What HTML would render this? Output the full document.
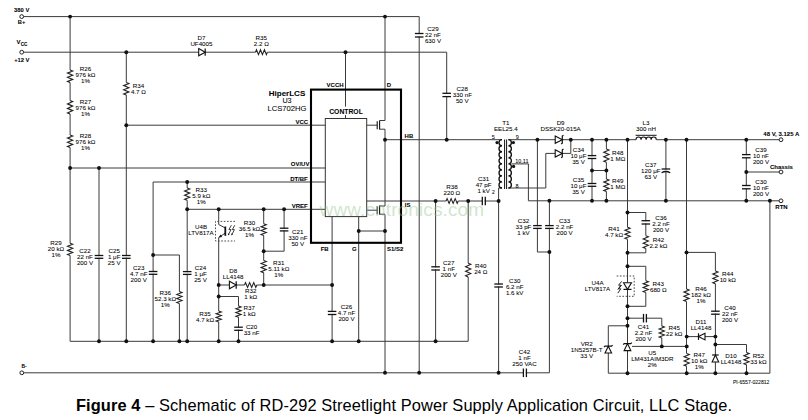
<!DOCTYPE html>
<html><head><meta charset="utf-8"><title>Figure 4 - RD-292 LLC Stage</title>
<style>html,body{margin:0;padding:0;background:#fff;width:808px;height:420px;overflow:hidden}
svg{display:block;font-family:"Liberation Sans",sans-serif}</style></head>
<body>
<svg width="808" height="420" viewBox="0 0 808 420" font-family="Liberation Sans, sans-serif"><rect width="808" height="420" fill="#fff"/><path d="M23.6 16.6 L419.2 16.6 L419.2 372.8" stroke="#3a3a3a" stroke-width="1" fill="none"/>
<path d="M385 16.6 L385 120.5 L379.6 120.5" stroke="#3a3a3a" stroke-width="1" fill="none"/>
<path d="M70.1 16.6 L70.1 341.3 L468.2 341.3 L468.2 201" stroke="#3a3a3a" stroke-width="1" fill="none"/>
<path d="M23.6 52.2 L446.7 52.2 L446.7 139.7" stroke="#3a3a3a" stroke-width="1" fill="none"/>
<path d="M126.3 52.2 L126.3 341.3" stroke="#3a3a3a" stroke-width="1" fill="none"/>
<path d="M126.3 125.2 L325.3 125.2" stroke="#3a3a3a" stroke-width="1" fill="none"/>
<path d="M345.5 52.2 L345.5 118.5" stroke="#3a3a3a" stroke-width="1" fill="none"/>
<path d="M70.1 168 L325.3 168" stroke="#3a3a3a" stroke-width="1" fill="none"/>
<path d="M99 168 L99 341.3" stroke="#3a3a3a" stroke-width="1" fill="none"/>
<path d="M325.3 182 L153.1 182 L153.1 341.3" stroke="#3a3a3a" stroke-width="1" fill="none"/>
<path d="M153.1 255 L179.4 255 L179.4 341.3" stroke="#3a3a3a" stroke-width="1" fill="none"/>
<path d="M187.2 182 L187.2 341.3" stroke="#3a3a3a" stroke-width="1" fill="none"/>
<path d="M187.2 209.3 L325.3 209.3" stroke="#3a3a3a" stroke-width="1" fill="none"/>
<path d="M218.7 209.3 L218.7 224.5 L225.3 228" stroke="#3a3a3a" stroke-width="1" fill="none"/>
<path d="M225.3 233 L218.7 237.5 L218.7 341.3" stroke="#3a3a3a" stroke-width="1" fill="none"/>
<path d="M225.3 226.5 L225.3 235.8" stroke="#111" stroke-width="1.8" fill="none"/>
<path d="M218.9 237.4 L220.4 234.6 L222.2 236.9 Z" fill="#111"/>
<path d="M235 221.4 L215.5 221.4 L215.5 241 L235 241" fill="none" stroke="#333" stroke-width="0.9" stroke-dasharray="1.6 1.6"/>
<path d="M231.4 225.2 L228.9 229.6 L231 229.6 L228.5 234.6" stroke="#111" stroke-width="0.8" fill="none"/>
<path d="M227.9 235.4 L228 233.2 L229.6 234.2 Z" fill="#111"/>
<path d="M234.8 225.2 L232.3 229.6 L234.4 229.6 L231.9 234.6" stroke="#111" stroke-width="0.8" fill="none"/>
<path d="M231.3 235.4 L231.4 233.2 L233 234.2 Z" fill="#111"/>
<path d="M218.7 285 L332.1 285" stroke="#3a3a3a" stroke-width="1" fill="none"/>
<path d="M218.7 296.5 L238.5 296.5 L238.5 341.3" stroke="#3a3a3a" stroke-width="1" fill="none"/>
<path d="M263.7 209.3 L263.7 285" stroke="#3a3a3a" stroke-width="1" fill="none"/>
<path d="M263.7 251.2 L284.1 251.2 L284.1 209.3" stroke="#3a3a3a" stroke-width="1" fill="none"/>
<path d="M332.1 216.6 L332.1 341.3" stroke="#3a3a3a" stroke-width="1" fill="none"/>
<path d="M358.7 216.6 L358.7 341.3" stroke="#3a3a3a" stroke-width="1" fill="none"/>
<path d="M385 214.5 L385 372.8" stroke="#3a3a3a" stroke-width="1" fill="none"/>
<path d="M358.7 231 L385 231" stroke="#3a3a3a" stroke-width="1" fill="none"/>
<path d="M366.7 210.2 L377.2 210.2" stroke="#3a3a3a" stroke-width="1" fill="none"/>
<path d="M377.2 206.2 L377.2 214.2" stroke="#111" stroke-width="1.1" fill="none"/>
<path d="M379.6 205.6 L379.6 214.6" stroke="#111" stroke-width="1.1" fill="none"/>
<path d="M379.6 206 L385 206 L385 139.7" stroke="#3a3a3a" stroke-width="1" fill="none"/>
<path d="M379.6 214.2 L385 214.2" stroke="#3a3a3a" stroke-width="1" fill="none"/>
<path d="M366.7 125.2 L377.2 125.2" stroke="#3a3a3a" stroke-width="1" fill="none"/>
<path d="M377.2 121.2 L377.2 129.2" stroke="#111" stroke-width="1.1" fill="none"/>
<path d="M379.6 120.6 L379.6 129.6" stroke="#111" stroke-width="1.1" fill="none"/>
<path d="M379.6 129.2 L385 129.2 L385 139.7" stroke="#3a3a3a" stroke-width="1" fill="none"/>
<path d="M385 139.7 L502 139.7" stroke="#3a3a3a" stroke-width="1" fill="none"/>
<path d="M366.7 201 L499 201" stroke="#3a3a3a" stroke-width="1" fill="none"/>
<path d="M435.6 201 L435.6 341.3" stroke="#3a3a3a" stroke-width="1" fill="none"/>
<path d="M502 188 L498.6 188 L498.6 372.8" stroke="#3a3a3a" stroke-width="1" fill="none"/>
<path d="M23.7 372.8 L549.4 372.8 L549.4 201" stroke="#3a3a3a" stroke-width="1" fill="none"/>
<path d="M508.4 139.7 L781 139.7" stroke="#3a3a3a" stroke-width="1" fill="none"/>
<path d="M511.5 163.9 L528.4 163.9 L528.4 200.8 L781 200.8" stroke="#3a3a3a" stroke-width="1" fill="none"/>
<path d="M508.4 188 L545.8 188 L545.8 153.4 L570.8 153.4 L570.8 139.7" stroke="#3a3a3a" stroke-width="1" fill="none"/>
<path d="M537.4 139.7 L537.4 252 L549.4 252" stroke="#3a3a3a" stroke-width="1" fill="none"/>
<path d="M592 139.7 L592 200.8" stroke="#3a3a3a" stroke-width="1" fill="none"/>
<path d="M592 170.5 L606.4 170.5" stroke="#3a3a3a" stroke-width="1" fill="none"/>
<path d="M606.4 139.7 L606.4 200.8" stroke="#3a3a3a" stroke-width="1" fill="none"/>
<path d="M627.5 139.7 L627.5 373.2" stroke="#3a3a3a" stroke-width="1" fill="none"/>
<path d="M627.5 212.5 L645.8 212.5 L645.8 252.8 L627.5 252.8" stroke="#3a3a3a" stroke-width="1" fill="none"/>
<path d="M627.5 266.3 L645.8 266.3 L645.8 306.3 L627.5 306.3" stroke="#3a3a3a" stroke-width="1" fill="none"/>
<path d="M627.5 318.2 L661.8 318.2 L661.8 346.4" stroke="#3a3a3a" stroke-width="1" fill="none"/>
<path d="M632 346.4 L686.7 346.4" stroke="#3a3a3a" stroke-width="1" fill="none"/>
<path d="M627.5 325.8 L608.3 325.8 L608.3 373.2 L769.9 373.2 L769.9 200.8" stroke="#3a3a3a" stroke-width="1" fill="none"/>
<path d="M665.9 139.7 L665.9 200.8" stroke="#3a3a3a" stroke-width="1" fill="none"/>
<path d="M686.5 139.7 L686.5 373.2" stroke="#3a3a3a" stroke-width="1" fill="none"/>
<path d="M686.5 252.4 L715.4 252.4 L715.4 373.2" stroke="#3a3a3a" stroke-width="1" fill="none"/>
<path d="M686.5 336.6 L715.4 336.6" stroke="#3a3a3a" stroke-width="1" fill="none"/>
<path d="M715.4 344.5 L746.5 344.5 L746.5 373.2" stroke="#3a3a3a" stroke-width="1" fill="none"/>
<path d="M746.3 139.7 L746.3 200.8" stroke="#3a3a3a" stroke-width="1" fill="none"/>
<path d="M746.3 172 L781 172" stroke="#3a3a3a" stroke-width="1" fill="none"/>
<rect x="311" y="89.6" width="90" height="153.2" fill="none" stroke="#000" stroke-width="2.1"/>
<rect x="325.3" y="118.5" width="41.4" height="98.1" fill="none" stroke="#333" stroke-width="1"/>
<path d="M502 139.7 C498 139.7 498 145.74 502 145.74 C498 145.74 498 151.77 502 151.77 C498 151.77 498 157.81 502 157.81 C498 157.81 498 163.85 502 163.85 C498 163.85 498 169.89 502 169.89 C498 169.89 498 175.92 502 175.92 C498 175.93 498 181.96 502 181.96 C498 181.96 498 188 502 188" stroke="#111" stroke-width="1.3" fill="none"/>
<path d="M508.4 139.7 C512.4 139.7 512.4 145.74 508.4 145.74 C512.4 145.74 512.4 151.77 508.4 151.77 C512.4 151.77 512.4 157.81 508.4 157.81 C512.4 157.81 512.4 163.85 508.4 163.85 C512.4 163.85 512.4 169.89 508.4 169.89 C512.4 169.89 512.4 175.92 508.4 175.92 C512.4 175.93 512.4 181.96 508.4 181.96 C512.4 181.96 512.4 188 508.4 188" stroke="#111" stroke-width="1.3" fill="none"/>
<path d="M504.6 139.5 L504.6 189" stroke="#111" stroke-width="1" fill="none"/>
<path d="M506.6 139.5 L506.6 189" stroke="#111" stroke-width="1" fill="none"/>
<circle cx="497" cy="142.6" r="1.6" fill="#111"/>
<circle cx="513.4" cy="142.6" r="1.6" fill="#111"/>
<circle cx="513.6" cy="166.4" r="1.6" fill="#111"/>
<rect x="636" y="137.7" width="20.3" height="4" fill="#fff"/>
<path d="M636 139.7 C636 136.1 641.07 136.1 641.07 139.7 C641.07 136.1 646.14 136.1 646.14 139.7 C646.14 136.1 651.21 136.1 651.21 139.7 C651.21 136.1 656.28 136.1 656.28 139.7" stroke="#111" stroke-width="1.1" fill="none"/>
<path d="M635.6 135.3 L656.6 135.3" stroke="#111" stroke-width="1" fill="none"/>
<rect x="68.1" y="70" width="4" height="12.5" fill="#fff"/>
<path d="M70.1 70 L72.7 71.04 L67.5 73.12 L72.7 75.21 L67.5 77.29 L72.7 79.38 L67.5 81.46 L70.1 82.5" stroke="#222" stroke-width="1.1" fill="none"/>
<rect x="68.1" y="100.5" width="4" height="13.5" fill="#fff"/>
<path d="M70.1 100.5 L72.7 101.62 L67.5 103.88 L72.7 106.12 L67.5 108.38 L72.7 110.62 L67.5 112.88 L70.1 114" stroke="#222" stroke-width="1.1" fill="none"/>
<rect x="68.1" y="135" width="4" height="12.5" fill="#fff"/>
<path d="M70.1 135 L72.7 136.04 L67.5 138.12 L72.7 140.21 L67.5 142.29 L72.7 144.38 L67.5 146.46 L70.1 147.5" stroke="#222" stroke-width="1.1" fill="none"/>
<rect x="68.1" y="243.2" width="4" height="12.3" fill="#fff"/>
<path d="M70.1 243.2 L72.7 244.22 L67.5 246.27 L72.7 248.32 L67.5 250.38 L72.7 252.43 L67.5 254.47 L70.1 255.5" stroke="#222" stroke-width="1.1" fill="none"/>
<rect x="124.3" y="82.5" width="4" height="12.5" fill="#fff"/>
<path d="M126.3 82.5 L128.9 83.54 L123.7 85.62 L128.9 87.71 L123.7 89.79 L128.9 91.88 L123.7 93.96 L126.3 95" stroke="#222" stroke-width="1.1" fill="none"/>
<rect x="185.2" y="188" width="4" height="12.3" fill="#fff"/>
<path d="M187.2 188 L189.8 189.03 L184.6 191.07 L189.8 193.12 L184.6 195.18 L189.8 197.23 L184.6 199.28 L187.2 200.3" stroke="#222" stroke-width="1.1" fill="none"/>
<rect x="261.7" y="223.7" width="4" height="11.8" fill="#fff"/>
<path d="M263.7 223.7 L266.3 224.68 L261.1 226.65 L266.3 228.62 L261.1 230.58 L266.3 232.55 L261.1 234.52 L263.7 235.5" stroke="#222" stroke-width="1.1" fill="none"/>
<rect x="261.7" y="260.4" width="4" height="12.3" fill="#fff"/>
<path d="M263.7 260.4 L266.3 261.42 L261.1 263.47 L266.3 265.52 L261.1 267.57 L266.3 269.62 L261.1 271.68 L263.7 272.7" stroke="#222" stroke-width="1.1" fill="none"/>
<rect x="177.4" y="291.6" width="4" height="11.9" fill="#fff"/>
<path d="M179.4 291.6 L182 292.59 L176.8 294.58 L182 296.56 L176.8 298.54 L182 300.52 L176.8 302.51 L179.4 303.5" stroke="#222" stroke-width="1.1" fill="none"/>
<rect x="216.7" y="311" width="4" height="11" fill="#fff"/>
<path d="M218.7 311 L221.3 311.92 L216.1 313.75 L221.3 315.58 L216.1 317.42 L221.3 319.25 L216.1 321.08 L218.7 322" stroke="#222" stroke-width="1.1" fill="none"/>
<rect x="236.5" y="306" width="4" height="11.2" fill="#fff"/>
<path d="M238.5 306 L241.1 306.93 L235.9 308.8 L241.1 310.67 L235.9 312.53 L241.1 314.4 L235.9 316.27 L238.5 317.2" stroke="#222" stroke-width="1.1" fill="none"/>
<rect x="466.2" y="263.2" width="4" height="13.8" fill="#fff"/>
<path d="M468.2 263.2 L470.8 264.35 L465.6 266.65 L470.8 268.95 L465.6 271.25 L470.8 273.55 L465.6 275.85 L468.2 277" stroke="#222" stroke-width="1.1" fill="none"/>
<rect x="625.5" y="227.2" width="4" height="12.1" fill="#fff"/>
<path d="M627.5 227.2 L630.1 228.21 L624.9 230.22 L630.1 232.24 L624.9 234.26 L630.1 236.28 L624.9 238.29 L627.5 239.3" stroke="#222" stroke-width="1.1" fill="none"/>
<rect x="643.8" y="235.7" width="4" height="12.8" fill="#fff"/>
<path d="M645.8 235.7 L648.4 236.77 L643.2 238.9 L648.4 241.03 L643.2 243.17 L648.4 245.3 L643.2 247.43 L645.8 248.5" stroke="#222" stroke-width="1.1" fill="none"/>
<rect x="643.8" y="280.7" width="4" height="11.8" fill="#fff"/>
<path d="M645.8 280.7 L648.4 281.68 L643.2 283.65 L648.4 285.62 L643.2 287.58 L648.4 289.55 L643.2 291.52 L645.8 292.5" stroke="#222" stroke-width="1.1" fill="none"/>
<rect x="713.4" y="270.9" width="4" height="12.9" fill="#fff"/>
<path d="M715.4 270.9 L718 271.97 L712.8 274.12 L718 276.27 L712.8 278.43 L718 280.57 L712.8 282.73 L715.4 283.8" stroke="#222" stroke-width="1.1" fill="none"/>
<rect x="684.5" y="289" width="4" height="12.5" fill="#fff"/>
<path d="M686.5 289 L689.1 290.04 L683.9 292.12 L689.1 294.21 L683.9 296.29 L689.1 298.38 L683.9 300.46 L686.5 301.5" stroke="#222" stroke-width="1.1" fill="none"/>
<rect x="659.8" y="326.1" width="4" height="11.9" fill="#fff"/>
<path d="M661.8 326.1 L664.4 327.09 L659.2 329.08 L664.4 331.06 L659.2 333.04 L664.4 335.02 L659.2 337.01 L661.8 338" stroke="#222" stroke-width="1.1" fill="none"/>
<rect x="684.7" y="353.5" width="4" height="12.7" fill="#fff"/>
<path d="M686.7 353.5 L689.3 354.56 L684.1 356.68 L689.3 358.79 L684.1 360.91 L689.3 363.02 L684.1 365.14 L686.7 366.2" stroke="#222" stroke-width="1.1" fill="none"/>
<rect x="744.5" y="352.6" width="4" height="12.2" fill="#fff"/>
<path d="M746.5 352.6 L749.1 353.62 L743.9 355.65 L749.1 357.68 L743.9 359.72 L749.1 361.75 L743.9 363.78 L746.5 364.8" stroke="#222" stroke-width="1.1" fill="none"/>
<rect x="604.4" y="149" width="4" height="13.3" fill="#fff"/>
<path d="M606.4 149 L609 150.11 L603.8 152.32 L609 154.54 L603.8 156.76 L609 158.98 L603.8 161.19 L606.4 162.3" stroke="#222" stroke-width="1.1" fill="none"/>
<rect x="604.4" y="179" width="4" height="12.5" fill="#fff"/>
<path d="M606.4 179 L609 180.04 L603.8 182.12 L609 184.21 L603.8 186.29 L609 188.38 L603.8 190.46 L606.4 191.5" stroke="#222" stroke-width="1.1" fill="none"/>
<rect x="255.5" y="50.2" width="11.9" height="4" fill="#fff"/>
<path d="M255.5 52.2 L256.49 49.8 L258.48 54.6 L260.46 49.8 L262.44 54.6 L264.42 49.8 L266.41 54.6 L267.4 52.2" stroke="#222" stroke-width="1.1" fill="none"/>
<rect x="244.5" y="283" width="12.3" height="4" fill="#fff"/>
<path d="M244.5 285 L245.53 282.6 L247.57 287.4 L249.62 282.6 L251.68 287.4 L253.73 282.6 L255.78 287.4 L256.8 285" stroke="#222" stroke-width="1.1" fill="none"/>
<rect x="446.1" y="199" width="12.1" height="4" fill="#fff"/>
<path d="M446.1 201 L447.11 198.6 L449.12 203.4 L451.14 198.6 L453.16 203.4 L455.18 198.6 L457.19 203.4 L458.2 201" stroke="#222" stroke-width="1.1" fill="none"/>
<rect x="417.2" y="34.1" width="4" height="2.3" fill="#fff"/>
<path d="M414.9 33.5 L423.5 33.5" stroke="#111" stroke-width="1.3" fill="none"/>
<path d="M414.9 37 L423.5 37" stroke="#111" stroke-width="1.3" fill="none"/>
<rect x="444.7" y="93.9" width="4" height="2.1" fill="#fff"/>
<path d="M442.4 93.3 L451 93.3" stroke="#111" stroke-width="1.3" fill="none"/>
<path d="M442.4 96.6 L451 96.6" stroke="#111" stroke-width="1.3" fill="none"/>
<rect x="97" y="256.1" width="4" height="1.6" fill="#fff"/>
<path d="M94.7 255.5 L103.3 255.5" stroke="#111" stroke-width="1.3" fill="none"/>
<path d="M94.7 258.3 L103.3 258.3" stroke="#111" stroke-width="1.3" fill="none"/>
<rect x="124.3" y="256.1" width="4" height="1.6" fill="#fff"/>
<path d="M122 255.5 L130.6 255.5" stroke="#111" stroke-width="1.3" fill="none"/>
<path d="M122 258.3 L130.6 258.3" stroke="#111" stroke-width="1.3" fill="none"/>
<rect x="151.1" y="272.1" width="4" height="1.6" fill="#fff"/>
<path d="M148.8 271.5 L157.4 271.5" stroke="#111" stroke-width="1.3" fill="none"/>
<path d="M148.8 274.3 L157.4 274.3" stroke="#111" stroke-width="1.3" fill="none"/>
<rect x="185.2" y="272.2" width="4" height="1.6" fill="#fff"/>
<path d="M182.9 271.6 L191.5 271.6" stroke="#111" stroke-width="1.3" fill="none"/>
<path d="M182.9 274.4 L191.5 274.4" stroke="#111" stroke-width="1.3" fill="none"/>
<rect x="282.1" y="228.8" width="4" height="1.5" fill="#fff"/>
<path d="M279.8 228.2 L288.4 228.2" stroke="#111" stroke-width="1.3" fill="none"/>
<path d="M279.8 230.9 L288.4 230.9" stroke="#111" stroke-width="1.3" fill="none"/>
<rect x="236.5" y="327.8" width="4" height="1.9" fill="#fff"/>
<path d="M234.2 327.2 L242.8 327.2" stroke="#111" stroke-width="1.3" fill="none"/>
<path d="M234.2 330.3 L242.8 330.3" stroke="#111" stroke-width="1.3" fill="none"/>
<rect x="330.1" y="312" width="4" height="1.9" fill="#fff"/>
<path d="M327.8 311.4 L336.4 311.4" stroke="#111" stroke-width="1.3" fill="none"/>
<path d="M327.8 314.5 L336.4 314.5" stroke="#111" stroke-width="1.3" fill="none"/>
<rect x="433.6" y="267.4" width="4" height="2" fill="#fff"/>
<path d="M431.3 266.8 L439.9 266.8" stroke="#111" stroke-width="1.3" fill="none"/>
<path d="M431.3 270 L439.9 270" stroke="#111" stroke-width="1.3" fill="none"/>
<rect x="496.6" y="284.6" width="4" height="1.8" fill="#fff"/>
<path d="M494.3 284 L502.9 284" stroke="#111" stroke-width="1.3" fill="none"/>
<path d="M494.3 287 L502.9 287" stroke="#111" stroke-width="1.3" fill="none"/>
<rect x="535.4" y="226.2" width="4" height="1.6" fill="#fff"/>
<path d="M533.1 225.6 L541.7 225.6" stroke="#111" stroke-width="1.3" fill="none"/>
<path d="M533.1 228.4 L541.7 228.4" stroke="#111" stroke-width="1.3" fill="none"/>
<rect x="547.4" y="226.2" width="4" height="1.6" fill="#fff"/>
<path d="M545.1 225.6 L553.7 225.6" stroke="#111" stroke-width="1.3" fill="none"/>
<path d="M545.1 228.4 L553.7 228.4" stroke="#111" stroke-width="1.3" fill="none"/>
<rect x="590" y="156.2" width="4" height="1.7" fill="#fff"/>
<path d="M587.7 155.6 L596.3 155.6" stroke="#111" stroke-width="1.3" fill="none"/>
<path d="M587.7 158.5 L596.3 158.5" stroke="#111" stroke-width="1.3" fill="none"/>
<rect x="590" y="184.1" width="4" height="1.6" fill="#fff"/>
<path d="M587.7 183.5 L596.3 183.5" stroke="#111" stroke-width="1.3" fill="none"/>
<path d="M587.7 186.3 L596.3 186.3" stroke="#111" stroke-width="1.3" fill="none"/>
<rect x="643.8" y="221.3" width="4" height="2.1" fill="#fff"/>
<path d="M641.5 220.7 L650.1 220.7" stroke="#111" stroke-width="1.3" fill="none"/>
<path d="M641.5 224 L650.1 224" stroke="#111" stroke-width="1.3" fill="none"/>
<rect x="744.3" y="155.2" width="4" height="2" fill="#fff"/>
<path d="M742 154.6 L750.6 154.6" stroke="#111" stroke-width="1.3" fill="none"/>
<path d="M742 157.8 L750.6 157.8" stroke="#111" stroke-width="1.3" fill="none"/>
<rect x="744.3" y="186.1" width="4" height="2.1" fill="#fff"/>
<path d="M742 185.5 L750.6 185.5" stroke="#111" stroke-width="1.3" fill="none"/>
<path d="M742 188.8 L750.6 188.8" stroke="#111" stroke-width="1.3" fill="none"/>
<rect x="713.4" y="311.8" width="4" height="1.8" fill="#fff"/>
<path d="M711.1 311.2 L719.7 311.2" stroke="#111" stroke-width="1.3" fill="none"/>
<path d="M711.1 314.2 L719.7 314.2" stroke="#111" stroke-width="1.3" fill="none"/>
<rect x="663.9" y="169.6" width="4" height="1.3" fill="#fff"/>
<path d="M661.6 169 L670.2 169" stroke="#111" stroke-width="1.3" fill="none"/>
<path d="M661.6 172.7 Q665.9 170.3 670.2 172.7" stroke="#111" stroke-width="1.3" fill="none"/>
<rect x="482.9" y="199" width="1.8" height="4" fill="#fff"/>
<path d="M482.3 196.7 L482.3 205.3" stroke="#111" stroke-width="1.3" fill="none"/>
<path d="M485.3 196.7 L485.3 205.3" stroke="#111" stroke-width="1.3" fill="none"/>
<rect x="644.1" y="316.2" width="1.7" height="4" fill="#fff"/>
<path d="M643.5 313.9 L643.5 322.5" stroke="#111" stroke-width="1.3" fill="none"/>
<path d="M646.4 313.9 L646.4 322.5" stroke="#111" stroke-width="1.3" fill="none"/>
<rect x="524" y="370.8" width="1.8" height="4" fill="#fff"/>
<path d="M523.4 368.5 L523.4 377.1" stroke="#111" stroke-width="1.3" fill="none"/>
<path d="M526.4 368.5 L526.4 377.1" stroke="#111" stroke-width="1.3" fill="none"/>
<rect x="198.7" y="50.2" width="6.5" height="4" fill="#fff"/>
<path d="M198.7 48.6 L205.2 52.2 L198.7 55.8 Z" fill="#fff" stroke="#111" stroke-width="1.1"/>
<path d="M205.2 48.6 L205.2 55.8" stroke="#111" stroke-width="1.2" fill="none"/>
<rect x="229.4" y="283" width="6.8" height="4" fill="#fff"/>
<path d="M229.4 281.2 L236.2 285 L229.4 288.8 Z" fill="#fff" stroke="#111" stroke-width="1.1"/>
<path d="M236.2 281.2 L236.2 288.8" stroke="#111" stroke-width="1.2" fill="none"/>
<rect x="555.2" y="137.7" width="7.1" height="4" fill="#fff"/>
<path d="M555.2 136.1 L562.3 139.7 L555.2 143.3 Z" fill="#fff" stroke="#111" stroke-width="1.1"/>
<path d="M563.5 135.3 L562.3 136.1 L562.3 143.3 L561.1 144.1" stroke="#111" stroke-width="1.2" fill="none"/>
<rect x="555.2" y="151.4" width="7.1" height="4" fill="#fff"/>
<path d="M555.2 149.8 L562.3 153.4 L555.2 157 Z" fill="#fff" stroke="#111" stroke-width="1.1"/>
<path d="M563.5 149 L562.3 149.8 L562.3 157 L561.1 157.8" stroke="#111" stroke-width="1.2" fill="none"/>
<rect x="698.5" y="334.6" width="6.5" height="4" fill="#fff"/>
<path d="M705 333.3 L698.5 336.6 L705 339.9 Z" fill="#fff" stroke="#111" stroke-width="1.1"/>
<path d="M698.5 333.3 L698.5 339.9" stroke="#111" stroke-width="1.2" fill="none"/>
<rect x="713.4" y="355" width="4" height="7" fill="#fff"/>
<path d="M712.1 362 L715.4 355 L718.7 362 Z" fill="#fff" stroke="#111" stroke-width="1.1"/>
<path d="M712.1 355 L718.7 355" stroke="#111" stroke-width="1.2" fill="none"/>
<rect x="625.5" y="282.8" width="4" height="6.6" fill="#fff"/>
<path d="M623.5 282.8 L627.5 289.4 L631.5 282.8 Z" fill="#fff" stroke="#111" stroke-width="1.1"/>
<path d="M623.5 289.4 L631.5 289.4" stroke="#111" stroke-width="1.2" fill="none"/>
<rect x="606.3" y="346.2" width="4" height="6.8" fill="#fff"/>
<path d="M605 353 L608.3 346.2 L611.6 353 Z" fill="#fff" stroke="#111" stroke-width="1.1"/>
<path d="M604 347.2 L605 346.2 L611.6 346.2 L612.6 345.2" stroke="#111" stroke-width="1.2" fill="none"/>
<rect x="625.5" y="343.6" width="4" height="7" fill="#fff"/>
<path d="M624.2 350.6 L627.5 343.6 L630.8 350.6 Z" fill="#fff" stroke="#111" stroke-width="1.1"/>
<path d="M623.2 344.6 L624.2 343.6 L630.8 343.6 L631.8 342.6" stroke="#111" stroke-width="1.2" fill="none"/>
<path d="M616.7 276 L634.2 276 L634.2 296.3 L616.7 296.3" fill="none" stroke="#333" stroke-width="0.9" stroke-dasharray="1.6 1.6"/>
<path d="M621.6 281.4 L618.6 285.2 L620.8 285.2 L617.8 289.6" stroke="#111" stroke-width="0.9" fill="none"/>
<path d="M621.6 285 L618.6 288.8 L620.8 288.8 L617.8 293.2" stroke="#111" stroke-width="0.9" fill="none"/>
<circle cx="70.1" cy="16.6" r="1.95" fill="#111"/>
<circle cx="385" cy="16.6" r="1.95" fill="#111"/>
<circle cx="126.3" cy="52.2" r="1.95" fill="#111"/>
<circle cx="345.5" cy="52.2" r="1.95" fill="#111"/>
<circle cx="126.3" cy="125.2" r="1.95" fill="#111"/>
<circle cx="70.1" cy="168" r="1.95" fill="#111"/>
<circle cx="99" cy="168" r="1.95" fill="#111"/>
<circle cx="187.2" cy="182" r="1.95" fill="#111"/>
<circle cx="187.2" cy="209.3" r="1.95" fill="#111"/>
<circle cx="218.7" cy="209.3" r="1.95" fill="#111"/>
<circle cx="263.7" cy="209.3" r="1.95" fill="#111"/>
<circle cx="284.1" cy="209.3" r="1.95" fill="#111"/>
<circle cx="153.1" cy="255" r="1.95" fill="#111"/>
<circle cx="263.7" cy="251.2" r="1.95" fill="#111"/>
<circle cx="218.7" cy="285" r="1.95" fill="#111"/>
<circle cx="263.7" cy="285" r="1.95" fill="#111"/>
<circle cx="332.1" cy="285" r="1.95" fill="#111"/>
<circle cx="218.7" cy="296.5" r="1.95" fill="#111"/>
<circle cx="99" cy="341.3" r="1.95" fill="#111"/>
<circle cx="126.3" cy="341.3" r="1.95" fill="#111"/>
<circle cx="153.1" cy="341.3" r="1.95" fill="#111"/>
<circle cx="179.4" cy="341.3" r="1.95" fill="#111"/>
<circle cx="187.2" cy="341.3" r="1.95" fill="#111"/>
<circle cx="218.7" cy="341.3" r="1.95" fill="#111"/>
<circle cx="238.5" cy="341.3" r="1.95" fill="#111"/>
<circle cx="332.1" cy="341.3" r="1.95" fill="#111"/>
<circle cx="358.7" cy="341.3" r="1.95" fill="#111"/>
<circle cx="435.6" cy="341.3" r="1.95" fill="#111"/>
<circle cx="385" cy="139.7" r="1.95" fill="#111"/>
<circle cx="446.7" cy="139.7" r="1.95" fill="#111"/>
<circle cx="385" cy="231" r="1.95" fill="#111"/>
<circle cx="358.7" cy="231" r="1.95" fill="#111"/>
<circle cx="435.6" cy="201" r="1.95" fill="#111"/>
<circle cx="468.2" cy="201" r="1.95" fill="#111"/>
<circle cx="498.6" cy="201" r="1.95" fill="#111"/>
<circle cx="385" cy="372.8" r="1.95" fill="#111"/>
<circle cx="419.2" cy="372.8" r="1.95" fill="#111"/>
<circle cx="498.6" cy="372.8" r="1.95" fill="#111"/>
<circle cx="537.4" cy="139.7" r="1.95" fill="#111"/>
<circle cx="570.8" cy="139.7" r="1.95" fill="#111"/>
<circle cx="592" cy="139.7" r="1.95" fill="#111"/>
<circle cx="606.4" cy="139.7" r="1.95" fill="#111"/>
<circle cx="627.5" cy="139.7" r="1.95" fill="#111"/>
<circle cx="665.9" cy="139.7" r="1.95" fill="#111"/>
<circle cx="686.5" cy="139.7" r="1.95" fill="#111"/>
<circle cx="746.3" cy="139.7" r="1.95" fill="#111"/>
<circle cx="549.4" cy="200.8" r="1.95" fill="#111"/>
<circle cx="592" cy="200.8" r="1.95" fill="#111"/>
<circle cx="606.4" cy="200.8" r="1.95" fill="#111"/>
<circle cx="665.9" cy="200.8" r="1.95" fill="#111"/>
<circle cx="746.3" cy="200.8" r="1.95" fill="#111"/>
<circle cx="769.9" cy="200.8" r="1.95" fill="#111"/>
<circle cx="592" cy="170.5" r="1.95" fill="#111"/>
<circle cx="606.4" cy="170.5" r="1.95" fill="#111"/>
<circle cx="746.3" cy="172" r="1.95" fill="#111"/>
<circle cx="549.4" cy="252" r="1.95" fill="#111"/>
<circle cx="627.5" cy="212.5" r="1.95" fill="#111"/>
<circle cx="627.5" cy="252.8" r="1.95" fill="#111"/>
<circle cx="627.5" cy="266.3" r="1.95" fill="#111"/>
<circle cx="627.5" cy="306.3" r="1.95" fill="#111"/>
<circle cx="627.5" cy="318.2" r="1.95" fill="#111"/>
<circle cx="627.5" cy="325.8" r="1.95" fill="#111"/>
<circle cx="686.5" cy="252.4" r="1.95" fill="#111"/>
<circle cx="661.8" cy="346.4" r="1.95" fill="#111"/>
<circle cx="686.7" cy="336.6" r="1.95" fill="#111"/>
<circle cx="686.7" cy="346.4" r="1.95" fill="#111"/>
<circle cx="715.4" cy="336.6" r="1.95" fill="#111"/>
<circle cx="715.4" cy="344.5" r="1.95" fill="#111"/>
<circle cx="627.5" cy="373.2" r="1.95" fill="#111"/>
<circle cx="686.7" cy="373.2" r="1.95" fill="#111"/>
<circle cx="715.4" cy="373.2" r="1.95" fill="#111"/>
<circle cx="746.5" cy="373.2" r="1.95" fill="#111"/>
<circle cx="21.7" cy="16.6" r="1.9" fill="#fff" stroke="#222" stroke-width="1"/>
<circle cx="21.7" cy="52.2" r="1.9" fill="#fff" stroke="#222" stroke-width="1"/>
<circle cx="21.8" cy="372.8" r="1.9" fill="#fff" stroke="#222" stroke-width="1"/>
<circle cx="781" cy="139.7" r="1.9" fill="#fff" stroke="#222" stroke-width="1"/>
<circle cx="781" cy="172" r="1.9" fill="#fff" stroke="#222" stroke-width="1"/>
<circle cx="781" cy="200.8" r="1.9" fill="#fff" stroke="#222" stroke-width="1"/>
<text x="21.7" y="12" font-size="5.8" font-weight="bold" text-anchor="middle" fill="#000" stroke="#000" stroke-width="0.06">380 V</text>
<text x="21.6" y="24" font-size="5.8" font-weight="bold" text-anchor="middle" fill="#000" stroke="#000" stroke-width="0.06">B+</text>
<text x="16.4" y="43.8" font-size="6" font-weight="bold" text-anchor="start" fill="#000" stroke="#000" stroke-width="0.06">V</text>
<text x="20.7" y="46.2" font-size="4.6" font-weight="bold" text-anchor="start" fill="#000" stroke="#000" stroke-width="0.06">CC</text>
<text x="21.8" y="62.4" font-size="5.8" font-weight="bold" text-anchor="middle" fill="#000" stroke="#000" stroke-width="0.06">+12 V</text>
<text x="24" y="368.4" font-size="4.8" font-weight="bold" text-anchor="middle" fill="#000" stroke="#000" stroke-width="0.06">B-</text>
<text x="85.5" y="71.4" font-size="6.2" text-anchor="middle" fill="#000" stroke="#000" stroke-width="0.06">R26</text>
<text x="85.5" y="77.4" font-size="6.2" text-anchor="middle" fill="#000" stroke="#000" stroke-width="0.06">976 k&#937;</text>
<text x="85.5" y="83.4" font-size="6.2" text-anchor="middle" fill="#000" stroke="#000" stroke-width="0.06">1%</text>
<text x="85.5" y="104" font-size="6.2" text-anchor="middle" fill="#000" stroke="#000" stroke-width="0.06">R27</text>
<text x="85.5" y="110" font-size="6.2" text-anchor="middle" fill="#000" stroke="#000" stroke-width="0.06">976 k&#937;</text>
<text x="85.5" y="116" font-size="6.2" text-anchor="middle" fill="#000" stroke="#000" stroke-width="0.06">1%</text>
<text x="85.5" y="138.4" font-size="6.2" text-anchor="middle" fill="#000" stroke="#000" stroke-width="0.06">R28</text>
<text x="85.5" y="144.4" font-size="6.2" text-anchor="middle" fill="#000" stroke="#000" stroke-width="0.06">976 k&#937;</text>
<text x="85.5" y="150.4" font-size="6.2" text-anchor="middle" fill="#000" stroke="#000" stroke-width="0.06">1%</text>
<text x="138.4" y="88.4" font-size="6.2" text-anchor="middle" fill="#000" stroke="#000" stroke-width="0.06">R34</text>
<text x="138.4" y="94.4" font-size="6.2" text-anchor="middle" fill="#000" stroke="#000" stroke-width="0.06">4.7 &#937;</text>
<text x="201.4" y="40.2" font-size="6.2" text-anchor="middle" fill="#000" stroke="#000" stroke-width="0.06">D7</text>
<text x="201.4" y="46.2" font-size="6.2" text-anchor="middle" fill="#000" stroke="#000" stroke-width="0.06">UF4005</text>
<text x="261.3" y="40.2" font-size="6.2" text-anchor="middle" fill="#000" stroke="#000" stroke-width="0.06">R35</text>
<text x="261.3" y="46.2" font-size="6.2" text-anchor="middle" fill="#000" stroke="#000" stroke-width="0.06">2.2 &#937;</text>
<text x="433" y="31.4" font-size="6.2" text-anchor="middle" fill="#000" stroke="#000" stroke-width="0.06">C29</text>
<text x="433" y="37.4" font-size="6.2" text-anchor="middle" fill="#000" stroke="#000" stroke-width="0.06">22 nF</text>
<text x="433" y="43.4" font-size="6.2" text-anchor="middle" fill="#000" stroke="#000" stroke-width="0.06">630 V</text>
<text x="462.3" y="91.4" font-size="6.2" text-anchor="middle" fill="#000" stroke="#000" stroke-width="0.06">C28</text>
<text x="462.3" y="97.4" font-size="6.2" text-anchor="middle" fill="#000" stroke="#000" stroke-width="0.06">330 nF</text>
<text x="462.3" y="103.4" font-size="6.2" text-anchor="middle" fill="#000" stroke="#000" stroke-width="0.06">50 V</text>
<text x="287" y="96.2" font-size="8" font-weight="bold" text-anchor="middle" fill="#000" stroke="#000" stroke-width="0.06">HiperLCS</text>
<text x="287" y="103.4" font-size="7.2" text-anchor="middle" fill="#000" stroke="#000" stroke-width="0.06">U3</text>
<text x="287" y="111.2" font-size="7.6" text-anchor="middle" fill="#000" stroke="#000" stroke-width="0.06">LCS702HG</text>
<text x="343.6" y="86.6" font-size="6" font-weight="bold" text-anchor="end" fill="#000" stroke="#000" stroke-width="0.06">VCCH</text>
<text x="386.8" y="86.6" font-size="6" font-weight="bold" text-anchor="start" fill="#000" stroke="#000" stroke-width="0.06">D</text>
<rect x="343" y="106.6" width="5" height="8.4" fill="#fff"/>
<text x="346" y="113.9" font-size="6.8" font-weight="bold" text-anchor="middle" fill="#000" stroke="#000" stroke-width="0.06">CONTROL</text>
<text x="308.2" y="123.8" font-size="6" font-weight="bold" text-anchor="end" fill="#000" stroke="#000" stroke-width="0.06">VCC</text>
<text x="404.6" y="138.2" font-size="6" font-weight="bold" text-anchor="start" fill="#000" stroke="#000" stroke-width="0.06">HB</text>
<text x="309.4" y="166.3" font-size="6" font-weight="bold" text-anchor="end" fill="#000" stroke="#000" stroke-width="0.06">OV/UV</text>
<text x="307.8" y="180.5" font-size="6" font-weight="bold" text-anchor="end" fill="#000" stroke="#000" stroke-width="0.06">DT/BF</text>
<text x="307.8" y="208.1" font-size="6" font-weight="bold" text-anchor="end" fill="#000" stroke="#000" stroke-width="0.06">VREF</text>
<text x="404.8" y="207.1" font-size="6" font-weight="bold" text-anchor="start" fill="#000" stroke="#000" stroke-width="0.06">IS</text>
<text x="324.7" y="250.6" font-size="6" font-weight="bold" text-anchor="middle" fill="#000" stroke="#000" stroke-width="0.06">FB</text>
<text x="354.3" y="250.6" font-size="6" font-weight="bold" text-anchor="middle" fill="#000" stroke="#000" stroke-width="0.06">G</text>
<text x="395.1" y="250.5" font-size="6" font-weight="bold" text-anchor="middle" fill="#000" stroke="#000" stroke-width="0.06">S1/S2</text>
<text x="505.8" y="125.2" font-size="6.2" text-anchor="middle" fill="#000" stroke="#000" stroke-width="0.06">T1</text>
<text x="505.8" y="131.2" font-size="6.2" text-anchor="middle" fill="#000" stroke="#000" stroke-width="0.06">EEL25.4</text>
<text x="560.6" y="125.4" font-size="6.2" text-anchor="middle" fill="#000" stroke="#000" stroke-width="0.06">D9</text>
<text x="560.6" y="131.4" font-size="6.2" text-anchor="middle" fill="#000" stroke="#000" stroke-width="0.06">DSSK20-015A</text>
<text x="493.2" y="138.8" font-size="5.5" text-anchor="middle" fill="#000" stroke="#000" stroke-width="0.06">5</text>
<text x="517.2" y="138.8" font-size="5.5" text-anchor="middle" fill="#000" stroke="#000" stroke-width="0.06">9</text>
<text x="515.2" y="163.2" font-size="5.5" text-anchor="start" fill="#000" stroke="#000" stroke-width="0.06">10,11</text>
<text x="517" y="187.6" font-size="5.5" text-anchor="middle" fill="#000" stroke="#000" stroke-width="0.06">8</text>
<text x="493.4" y="194.4" font-size="5" text-anchor="middle" fill="#000" stroke="#000" stroke-width="0.06">2</text>
<text x="578.5" y="152.2" font-size="6.2" text-anchor="middle" fill="#000" stroke="#000" stroke-width="0.06">C34</text>
<text x="578.5" y="158.2" font-size="6.2" text-anchor="middle" fill="#000" stroke="#000" stroke-width="0.06">10 &#956;F</text>
<text x="578.5" y="164.2" font-size="6.2" text-anchor="middle" fill="#000" stroke="#000" stroke-width="0.06">35 V</text>
<text x="578.5" y="182.4" font-size="6.2" text-anchor="middle" fill="#000" stroke="#000" stroke-width="0.06">C35</text>
<text x="578.5" y="188.4" font-size="6.2" text-anchor="middle" fill="#000" stroke="#000" stroke-width="0.06">10 &#956;F</text>
<text x="578.5" y="194.4" font-size="6.2" text-anchor="middle" fill="#000" stroke="#000" stroke-width="0.06">35 V</text>
<text x="617.8" y="155" font-size="6.2" text-anchor="middle" fill="#000" stroke="#000" stroke-width="0.06">R48</text>
<text x="617.8" y="161" font-size="6.2" text-anchor="middle" fill="#000" stroke="#000" stroke-width="0.06">1 M&#937;</text>
<text x="617.8" y="183.4" font-size="6.2" text-anchor="middle" fill="#000" stroke="#000" stroke-width="0.06">R49</text>
<text x="617.8" y="189.4" font-size="6.2" text-anchor="middle" fill="#000" stroke="#000" stroke-width="0.06">1 M&#937;</text>
<text x="646" y="125.4" font-size="6.2" text-anchor="middle" fill="#000" stroke="#000" stroke-width="0.06">L3</text>
<text x="646" y="131.4" font-size="6.2" text-anchor="middle" fill="#000" stroke="#000" stroke-width="0.06">300 nH</text>
<text x="650.8" y="167" font-size="6.2" text-anchor="middle" fill="#000" stroke="#000" stroke-width="0.06">C37</text>
<text x="650.8" y="173" font-size="6.2" text-anchor="middle" fill="#000" stroke="#000" stroke-width="0.06">120 &#956;F</text>
<text x="650.8" y="179" font-size="6.2" text-anchor="middle" fill="#000" stroke="#000" stroke-width="0.06">63 V</text>
<text x="781.3" y="136.2" font-size="6" font-weight="bold" text-anchor="middle" fill="#000" stroke="#000" stroke-width="0.06">48 V, 3.125 A</text>
<text x="761" y="152" font-size="6.2" text-anchor="middle" fill="#000" stroke="#000" stroke-width="0.06">C39</text>
<text x="761" y="158" font-size="6.2" text-anchor="middle" fill="#000" stroke="#000" stroke-width="0.06">10 nF</text>
<text x="761" y="164" font-size="6.2" text-anchor="middle" fill="#000" stroke="#000" stroke-width="0.06">200 V</text>
<text x="781.4" y="169.2" font-size="6" font-weight="bold" text-anchor="middle" fill="#000" stroke="#000" stroke-width="0.06">Chassis</text>
<text x="761" y="183.6" font-size="6.2" text-anchor="middle" fill="#000" stroke="#000" stroke-width="0.06">C30</text>
<text x="761" y="189.6" font-size="6.2" text-anchor="middle" fill="#000" stroke="#000" stroke-width="0.06">10 nF</text>
<text x="761" y="195.6" font-size="6.2" text-anchor="middle" fill="#000" stroke="#000" stroke-width="0.06">200 V</text>
<text x="781.5" y="209.2" font-size="6" font-weight="bold" text-anchor="middle" fill="#000" stroke="#000" stroke-width="0.06">RTN</text>
<text x="451.9" y="189.1" font-size="6.2" text-anchor="middle" fill="#000" stroke="#000" stroke-width="0.06">R38</text>
<text x="451.9" y="195.1" font-size="6.2" text-anchor="middle" fill="#000" stroke="#000" stroke-width="0.06">220 &#937;</text>
<text x="483.6" y="181" font-size="6.2" text-anchor="middle" fill="#000" stroke="#000" stroke-width="0.06">C31</text>
<text x="483.6" y="187" font-size="6.2" text-anchor="middle" fill="#000" stroke="#000" stroke-width="0.06">47 pF</text>
<text x="483.6" y="193" font-size="6.2" text-anchor="middle" fill="#000" stroke="#000" stroke-width="0.06">1 kV</text>
<text x="523.5" y="222.5" font-size="6.2" text-anchor="middle" fill="#000" stroke="#000" stroke-width="0.06">C32</text>
<text x="523.5" y="228.5" font-size="6.2" text-anchor="middle" fill="#000" stroke="#000" stroke-width="0.06">33 pF</text>
<text x="523.5" y="234.5" font-size="6.2" text-anchor="middle" fill="#000" stroke="#000" stroke-width="0.06">1 kV</text>
<text x="564.6" y="222.5" font-size="6.2" text-anchor="middle" fill="#000" stroke="#000" stroke-width="0.06">C33</text>
<text x="564.6" y="228.5" font-size="6.2" text-anchor="middle" fill="#000" stroke="#000" stroke-width="0.06">2.2 nF</text>
<text x="564.6" y="234.5" font-size="6.2" text-anchor="middle" fill="#000" stroke="#000" stroke-width="0.06">200 V</text>
<text x="614" y="230.6" font-size="6.2" text-anchor="middle" fill="#000" stroke="#000" stroke-width="0.06">R41</text>
<text x="614" y="236.6" font-size="6.2" text-anchor="middle" fill="#000" stroke="#000" stroke-width="0.06">4.7 k&#937;</text>
<text x="661" y="220" font-size="6.2" text-anchor="middle" fill="#000" stroke="#000" stroke-width="0.06">C36</text>
<text x="661" y="226" font-size="6.2" text-anchor="middle" fill="#000" stroke="#000" stroke-width="0.06">2.2 nF</text>
<text x="661" y="232" font-size="6.2" text-anchor="middle" fill="#000" stroke="#000" stroke-width="0.06">200 V</text>
<text x="658.4" y="241.6" font-size="6.2" text-anchor="middle" fill="#000" stroke="#000" stroke-width="0.06">R42</text>
<text x="658.4" y="247.6" font-size="6.2" text-anchor="middle" fill="#000" stroke="#000" stroke-width="0.06">2.2 k&#937;</text>
<text x="658.3" y="286" font-size="6.2" text-anchor="middle" fill="#000" stroke="#000" stroke-width="0.06">R43</text>
<text x="658.3" y="292" font-size="6.2" text-anchor="middle" fill="#000" stroke="#000" stroke-width="0.06">680 &#937;</text>
<text x="727.8" y="276.2" font-size="6.2" text-anchor="middle" fill="#000" stroke="#000" stroke-width="0.06">R44</text>
<text x="727.8" y="282.2" font-size="6.2" text-anchor="middle" fill="#000" stroke="#000" stroke-width="0.06">10 k&#937;</text>
<text x="701" y="291" font-size="6.2" text-anchor="middle" fill="#000" stroke="#000" stroke-width="0.06">R46</text>
<text x="701" y="297" font-size="6.2" text-anchor="middle" fill="#000" stroke="#000" stroke-width="0.06">182 k&#937;</text>
<text x="701" y="303" font-size="6.2" text-anchor="middle" fill="#000" stroke="#000" stroke-width="0.06">1%</text>
<text x="597.5" y="285" font-size="6.2" text-anchor="middle" fill="#000" stroke="#000" stroke-width="0.06">U4A</text>
<text x="597.5" y="291" font-size="6.2" text-anchor="middle" fill="#000" stroke="#000" stroke-width="0.06">LTV817A</text>
<text x="514.7" y="282.5" font-size="6.2" text-anchor="middle" fill="#000" stroke="#000" stroke-width="0.06">C30</text>
<text x="514.7" y="288.5" font-size="6.2" text-anchor="middle" fill="#000" stroke="#000" stroke-width="0.06">6.2 nF</text>
<text x="514.7" y="294.5" font-size="6.2" text-anchor="middle" fill="#000" stroke="#000" stroke-width="0.06">1.6 kV</text>
<text x="524.5" y="353.8" font-size="6.2" text-anchor="middle" fill="#000" stroke="#000" stroke-width="0.06">C42</text>
<text x="524.5" y="359.8" font-size="6.2" text-anchor="middle" fill="#000" stroke="#000" stroke-width="0.06">1 nF</text>
<text x="524.5" y="365.8" font-size="6.2" text-anchor="middle" fill="#000" stroke="#000" stroke-width="0.06">250 VAC</text>
<text x="586.7" y="345.8" font-size="6.2" text-anchor="middle" fill="#000" stroke="#000" stroke-width="0.06">VR2</text>
<text x="586.7" y="351.8" font-size="6.2" text-anchor="middle" fill="#000" stroke="#000" stroke-width="0.06">1N5257B-T</text>
<text x="586.7" y="357.8" font-size="6.2" text-anchor="middle" fill="#000" stroke="#000" stroke-width="0.06">33 V</text>
<text x="643.5" y="328.5" font-size="6.2" text-anchor="middle" fill="#000" stroke="#000" stroke-width="0.06">C41</text>
<text x="643.5" y="334.5" font-size="6.2" text-anchor="middle" fill="#000" stroke="#000" stroke-width="0.06">2.2 nF</text>
<text x="643.5" y="340.5" font-size="6.2" text-anchor="middle" fill="#000" stroke="#000" stroke-width="0.06">200 V</text>
<text x="674.2" y="330" font-size="6.2" text-anchor="middle" fill="#000" stroke="#000" stroke-width="0.06">R45</text>
<text x="674.2" y="336" font-size="6.2" text-anchor="middle" fill="#000" stroke="#000" stroke-width="0.06">22 k&#937;</text>
<text x="652.3" y="354.5" font-size="6.2" text-anchor="middle" fill="#000" stroke="#000" stroke-width="0.06">U5</text>
<text x="652.3" y="360.5" font-size="6.2" text-anchor="middle" fill="#000" stroke="#000" stroke-width="0.06">LM431AIM3DR</text>
<text x="652.3" y="366.5" font-size="6.2" text-anchor="middle" fill="#000" stroke="#000" stroke-width="0.06">2%</text>
<text x="701" y="323.5" font-size="6.2" text-anchor="middle" fill="#000" stroke="#000" stroke-width="0.06">D11</text>
<text x="701" y="329.5" font-size="6.2" text-anchor="middle" fill="#000" stroke="#000" stroke-width="0.06">LL4148</text>
<text x="730" y="309.5" font-size="6.2" text-anchor="middle" fill="#000" stroke="#000" stroke-width="0.06">C40</text>
<text x="730" y="315.5" font-size="6.2" text-anchor="middle" fill="#000" stroke="#000" stroke-width="0.06">22 nF</text>
<text x="730" y="321.5" font-size="6.2" text-anchor="middle" fill="#000" stroke="#000" stroke-width="0.06">200 V</text>
<text x="699.2" y="357.3" font-size="6.2" text-anchor="middle" fill="#000" stroke="#000" stroke-width="0.06">R47</text>
<text x="699.2" y="363.3" font-size="6.2" text-anchor="middle" fill="#000" stroke="#000" stroke-width="0.06">10 k&#937;</text>
<text x="699.2" y="369.3" font-size="6.2" text-anchor="middle" fill="#000" stroke="#000" stroke-width="0.06">1%</text>
<text x="731" y="358" font-size="6.2" text-anchor="middle" fill="#000" stroke="#000" stroke-width="0.06">D10</text>
<text x="731" y="364" font-size="6.2" text-anchor="middle" fill="#000" stroke="#000" stroke-width="0.06">LL4148</text>
<text x="758.4" y="358" font-size="6.2" text-anchor="middle" fill="#000" stroke="#000" stroke-width="0.06">R52</text>
<text x="758.4" y="364" font-size="6.2" text-anchor="middle" fill="#000" stroke="#000" stroke-width="0.06">33 k&#937;</text>
<text x="751.2" y="383.8" font-size="5.1" text-anchor="middle" fill="#000" stroke="#000" stroke-width="0.06">PI-6557-022812</text>
<text x="56" y="245" font-size="6.2" text-anchor="middle" fill="#000" stroke="#000" stroke-width="0.06">R29</text>
<text x="56" y="251" font-size="6.2" text-anchor="middle" fill="#000" stroke="#000" stroke-width="0.06">20 k&#937;</text>
<text x="56" y="257" font-size="6.2" text-anchor="middle" fill="#000" stroke="#000" stroke-width="0.06">1%</text>
<text x="85" y="253" font-size="6.2" text-anchor="middle" fill="#000" stroke="#000" stroke-width="0.06">C22</text>
<text x="85" y="259" font-size="6.2" text-anchor="middle" fill="#000" stroke="#000" stroke-width="0.06">22 nF</text>
<text x="85" y="265" font-size="6.2" text-anchor="middle" fill="#000" stroke="#000" stroke-width="0.06">200 V</text>
<text x="114.2" y="253" font-size="6.2" text-anchor="middle" fill="#000" stroke="#000" stroke-width="0.06">C25</text>
<text x="114.2" y="259" font-size="6.2" text-anchor="middle" fill="#000" stroke="#000" stroke-width="0.06">1 &#956;F</text>
<text x="114.2" y="265" font-size="6.2" text-anchor="middle" fill="#000" stroke="#000" stroke-width="0.06">25 V</text>
<text x="138.7" y="269.5" font-size="6.2" text-anchor="middle" fill="#000" stroke="#000" stroke-width="0.06">C23</text>
<text x="138.7" y="275.5" font-size="6.2" text-anchor="middle" fill="#000" stroke="#000" stroke-width="0.06">4.7 nF</text>
<text x="138.7" y="281.5" font-size="6.2" text-anchor="middle" fill="#000" stroke="#000" stroke-width="0.06">200 V</text>
<text x="165.3" y="294.5" font-size="6.2" text-anchor="middle" fill="#000" stroke="#000" stroke-width="0.06">R36</text>
<text x="165.3" y="300.5" font-size="6.2" text-anchor="middle" fill="#000" stroke="#000" stroke-width="0.06">52.3 k&#937;</text>
<text x="165.3" y="306.5" font-size="6.2" text-anchor="middle" fill="#000" stroke="#000" stroke-width="0.06">1%</text>
<text x="201.3" y="191.6" font-size="6.2" text-anchor="middle" fill="#000" stroke="#000" stroke-width="0.06">R33</text>
<text x="201.3" y="197.6" font-size="6.2" text-anchor="middle" fill="#000" stroke="#000" stroke-width="0.06">5.9 k&#937;</text>
<text x="201.3" y="203.6" font-size="6.2" text-anchor="middle" fill="#000" stroke="#000" stroke-width="0.06">1%</text>
<text x="201" y="229" font-size="6.2" text-anchor="middle" fill="#000" stroke="#000" stroke-width="0.06">U4B</text>
<text x="201" y="235" font-size="6.2" text-anchor="middle" fill="#000" stroke="#000" stroke-width="0.06">LTV817A</text>
<text x="249.5" y="225" font-size="6.2" text-anchor="middle" fill="#000" stroke="#000" stroke-width="0.06">R30</text>
<text x="249.5" y="231" font-size="6.2" text-anchor="middle" fill="#000" stroke="#000" stroke-width="0.06">36.5 k&#937;</text>
<text x="249.5" y="237" font-size="6.2" text-anchor="middle" fill="#000" stroke="#000" stroke-width="0.06">1%</text>
<text x="297.8" y="233.5" font-size="6.2" text-anchor="middle" fill="#000" stroke="#000" stroke-width="0.06">C21</text>
<text x="297.8" y="239.5" font-size="6.2" text-anchor="middle" fill="#000" stroke="#000" stroke-width="0.06">330 nF</text>
<text x="297.8" y="245.5" font-size="6.2" text-anchor="middle" fill="#000" stroke="#000" stroke-width="0.06">50 V</text>
<text x="278.8" y="265" font-size="6.2" text-anchor="middle" fill="#000" stroke="#000" stroke-width="0.06">R31</text>
<text x="278.8" y="271" font-size="6.2" text-anchor="middle" fill="#000" stroke="#000" stroke-width="0.06">5.11 k&#937;</text>
<text x="278.8" y="277" font-size="6.2" text-anchor="middle" fill="#000" stroke="#000" stroke-width="0.06">1%</text>
<text x="200.5" y="269.5" font-size="6.2" text-anchor="middle" fill="#000" stroke="#000" stroke-width="0.06">C24</text>
<text x="200.5" y="275.5" font-size="6.2" text-anchor="middle" fill="#000" stroke="#000" stroke-width="0.06">1 &#956;F</text>
<text x="200.5" y="281.5" font-size="6.2" text-anchor="middle" fill="#000" stroke="#000" stroke-width="0.06">25 V</text>
<text x="233.2" y="272.5" font-size="6.2" text-anchor="middle" fill="#000" stroke="#000" stroke-width="0.06">D8</text>
<text x="233.2" y="278.5" font-size="6.2" text-anchor="middle" fill="#000" stroke="#000" stroke-width="0.06">LL4148</text>
<text x="250.8" y="292.8" font-size="6.2" text-anchor="middle" fill="#000" stroke="#000" stroke-width="0.06">R32</text>
<text x="250.8" y="298.8" font-size="6.2" text-anchor="middle" fill="#000" stroke="#000" stroke-width="0.06">1 k&#937;</text>
<text x="249.2" y="310" font-size="6.2" text-anchor="middle" fill="#000" stroke="#000" stroke-width="0.06">R37</text>
<text x="249.2" y="316" font-size="6.2" text-anchor="middle" fill="#000" stroke="#000" stroke-width="0.06">1 k&#937;</text>
<text x="251.6" y="328.5" font-size="6.2" text-anchor="middle" fill="#000" stroke="#000" stroke-width="0.06">C20</text>
<text x="251.6" y="334.5" font-size="6.2" text-anchor="middle" fill="#000" stroke="#000" stroke-width="0.06">33 nF</text>
<text x="205" y="316.2" font-size="6.2" text-anchor="middle" fill="#000" stroke="#000" stroke-width="0.06">R35</text>
<text x="205" y="322.2" font-size="6.2" text-anchor="middle" fill="#000" stroke="#000" stroke-width="0.06">4.7 k&#937;</text>
<text x="346.5" y="309.1" font-size="6.2" text-anchor="middle" fill="#000" stroke="#000" stroke-width="0.06">C26</text>
<text x="346.5" y="315.1" font-size="6.2" text-anchor="middle" fill="#000" stroke="#000" stroke-width="0.06">4.7 nF</text>
<text x="346.5" y="321.1" font-size="6.2" text-anchor="middle" fill="#000" stroke="#000" stroke-width="0.06">200 V</text>
<text x="448.8" y="265" font-size="6.2" text-anchor="middle" fill="#000" stroke="#000" stroke-width="0.06">C27</text>
<text x="448.8" y="271" font-size="6.2" text-anchor="middle" fill="#000" stroke="#000" stroke-width="0.06">1 nF</text>
<text x="448.8" y="277" font-size="6.2" text-anchor="middle" fill="#000" stroke="#000" stroke-width="0.06">200 V</text>
<text x="480.8" y="267.5" font-size="6.2" text-anchor="middle" fill="#000" stroke="#000" stroke-width="0.06">R40</text>
<text x="480.8" y="273.5" font-size="6.2" text-anchor="middle" fill="#000" stroke="#000" stroke-width="0.06">24 &#937;</text>
<text x="319.6" y="215.7" font-size="19" textLength="164.5" lengthAdjust="spacing" fill="#8cbf86" fill-opacity="0.42">www.cntronics.com</text>
<text x="76" y="410.8" font-size="16.4" textLength="656" lengthAdjust="spacing" fill="#000"><tspan font-weight="bold">Figure 4</tspan> &#8211; Schematic of RD-292 Streetlight Power Supply Application Circuit, LLC Stage.</text></svg>
</body></html>
